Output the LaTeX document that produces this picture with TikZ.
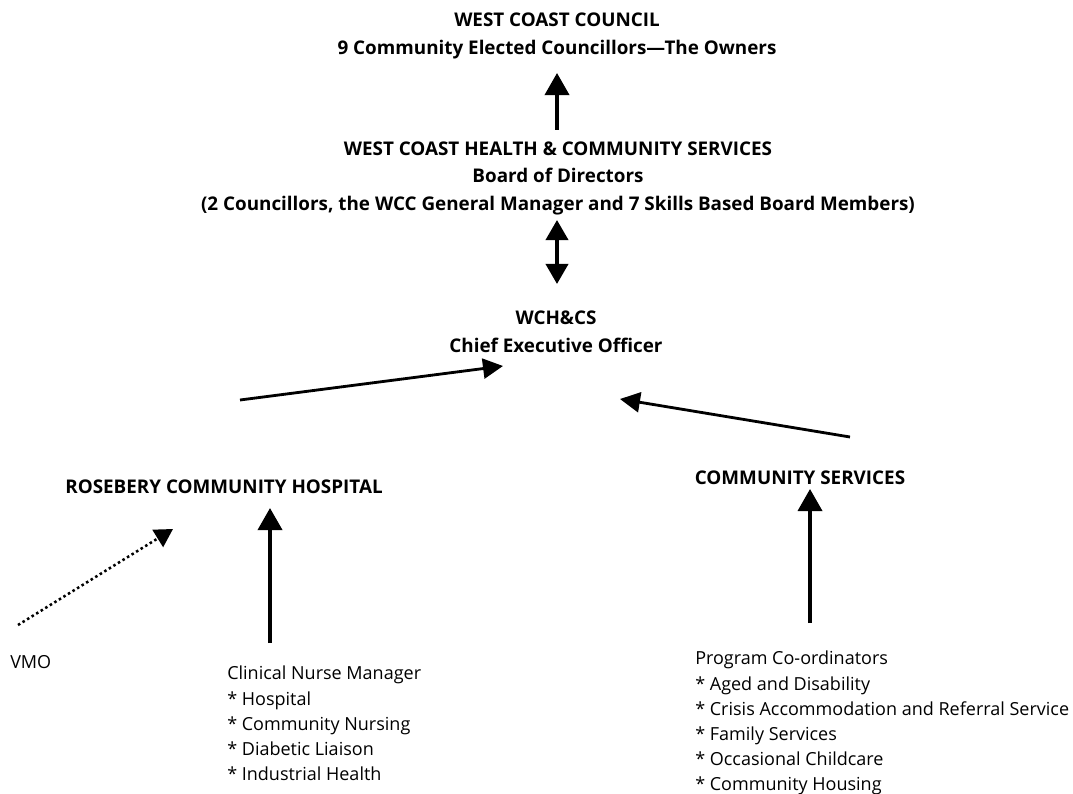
\documentclass[tikz,border=0pt]{standalone}
\usepackage{fontspec}
\setmainfont{Open Sans}
\usetikzlibrary{arrows.meta,positioning}

\tikzset{
  title/.style={font=\bfseries\fontsize{13.4}{19.6}\selectfont, align=center, inner sep=0pt},
  plain/.style={font=\fontsize{12.8}{17.9}\selectfont, align=left, inner sep=0pt},
  link/.style={-{Triangle[length=0.55cm,width=0.6cm]}, line width=2.6pt},
  both/.style={{Triangle[length=0.5cm,width=0.55cm]}-{Triangle[length=0.5cm,width=0.55cm]}, line width=2.6pt},
  report/.style={-{Triangle[length=0.5cm,width=0.5cm]}, line width=2pt},
  loose/.style={-{Triangle[length=0.45cm,width=0.5cm]}, line width=1.8pt, dotted}
}

\begin{document}
\begin{tikzpicture}[x=0.025cm, y=-0.025cm]

  \useasboundingbox (0,0) rectangle (1073,794);

  % Define nodes
  \node[title] (council)  at (557,36)  {WEST COAST COUNCIL\\9 Community Elected Councillors—The Owners};
  \node[title] (board)    at (558,178) {WEST COAST HEALTH \& COMMUNITY SERVICES\\Board of Directors\\(2 Councillors, the WCC General Manager and 7 Skills Based Board Members)};
  \node[title] (ceo)      at (556,332) {WCH\&CS\\Chief Executive Officer};
  \node[title] (hospital) at (224,487) {ROSEBERY COMMUNITY HOSPITAL};
  \node[title] (services) at (800,478) {COMMUNITY SERVICES};
  \node[plain, anchor=west]       (vmo)   at (10,662)  {VMO};
  \node[plain, anchor=north west] (nurse) at (227,666) {Clinical Nurse Manager\\* Hospital\\* Community Nursing\\* Diabetic Liaison\\* Industrial Health};
  \node[plain, anchor=north west] (coord) at (695,651) {Program Co-ordinators\\* Aged and Disability\\* Crisis Accommodation and Referral Service\\* Family Services\\* Occasional Childcare\\* Community Housing};

  % Arrow ends
  \coordinate (b1) at (557,130);  \coordinate (c1) at (557,73);
  \coordinate (b2) at (557,220);  \coordinate (e1) at (557,284);
  \coordinate (h1) at (240,400);  \coordinate (e2) at (503,366);
  \coordinate (s1) at (850,437);  \coordinate (e3) at (620,399);
  \coordinate (v1) at (18,625);   \coordinate (h2) at (173,529);
  \coordinate (n1) at (270,643);  \coordinate (h3) at (270,508);
  \coordinate (p1) at (810,623);  \coordinate (s2) at (810,489);

  % Connect the nodes
  \draw[link]   (b1) -- (c1);
  \draw[both]   (b2) -- (e1);
  \draw[report] (h1) -- (e2);
  \draw[report] (s1) -- (e3);
  \draw[loose]  (v1) -- (h2);
  \draw[link]   (n1) -- (h3);
  \draw[link]   (p1) -- (s2);

\end{tikzpicture}
\end{document}
